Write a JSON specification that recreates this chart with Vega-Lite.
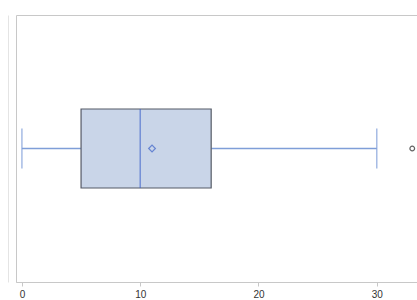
{
  "$schema": "https://vega.github.io/schema/vega-lite/v6.json",
  "width": 414,
  "height": 267,
  "autosize": {"type": "none"},
  "padding": {"left": 16, "top": 15, "right": 0, "bottom": 18},
  "background": "white",
  "config": {
    "view": {"stroke": "#c8c8c8", "strokeWidth": 1},
    "font": "Liberation Sans"
  },
  "datasets": {
    "stats": [{"cat": "A", "min": 0, "q1": 5, "median": 10, "q3": 16, "max": 30, "mean": 11}],
    "outliers": [{"cat": "A", "value": 33}]
  },
  "encoding": {
    "y": {
      "field": "cat",
      "type": "nominal",
      "scale": {"paddingInner": 0, "paddingOuter": 0},
      "axis": {"title": null, "labels": false, "ticks": false, "domain": true, "domainColor": "#e4e4e4", "offset": 8}
    }
  },
  "layer": [
    {
      "data": {"name": "stats"},
      "mark": {"type": "rule", "color": "#7f9ed8", "strokeWidth": 1.5},
      "encoding": {
        "x": {
          "field": "min", "type": "quantitative",
          "scale": {"domain": [-0.5, 34.5], "nice": false, "zero": false},
          "axis": {"title": null, "values": [0, 10, 20, 30], "grid": false, "domainColor": "#c8c8c8", "tickColor": "#c8c8c8", "tickSize": 4, "labelFontSize": 10, "labelColor": "#333333", "labelPadding": 3}
        },
        "x2": {"field": "q1"}
      }
    },
    {
      "data": {"name": "stats"},
      "mark": {"type": "rule", "color": "#7f9ed8", "strokeWidth": 1.5},
      "encoding": {"x": {"field": "q3", "type": "quantitative"}, "x2": {"field": "max"}}
    },
    {
      "data": {"name": "stats"},
      "mark": {"type": "tick", "color": "#7f9ed8", "size": 40, "thickness": 1.5, "orient": "vertical"},
      "encoding": {"x": {"field": "min", "type": "quantitative"}}
    },
    {
      "data": {"name": "stats"},
      "mark": {"type": "tick", "color": "#7f9ed8", "size": 40, "thickness": 1.5, "orient": "vertical"},
      "encoding": {"x": {"field": "max", "type": "quantitative"}}
    },
    {
      "data": {"name": "stats"},
      "mark": {"type": "bar", "fill": "#c9d5e8", "stroke": "#555a66", "strokeWidth": 1.2, "height": {"band": 0.296}},
      "encoding": {"x": {"field": "q1", "type": "quantitative"}, "x2": {"field": "q3"}}
    },
    {
      "data": {"name": "stats"},
      "mark": {"type": "tick", "color": "#3d63c9", "size": 79, "thickness": 1.3, "orient": "vertical"},
      "encoding": {"x": {"field": "median", "type": "quantitative"}}
    },
    {
      "data": {"name": "stats"},
      "mark": {"type": "point", "shape": "diamond", "filled": false, "color": "#3d63c9", "size": 45, "strokeWidth": 1.2},
      "encoding": {"x": {"field": "mean", "type": "quantitative"}}
    },
    {
      "data": {"name": "outliers"},
      "mark": {"type": "point", "shape": "circle", "filled": false, "color": "#222222", "size": 22, "strokeWidth": 1.2},
      "encoding": {"x": {"field": "value", "type": "quantitative"}}
    }
  ]
}
